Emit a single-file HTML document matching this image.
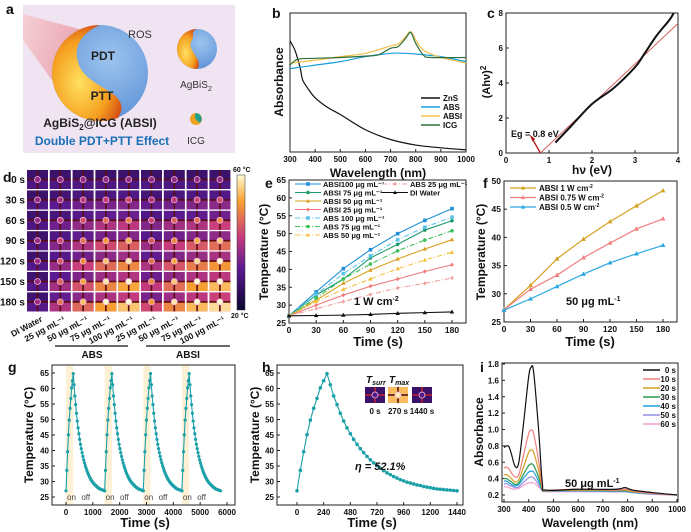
<!DOCTYPE html>
<html><head><meta charset="utf-8"><style>
body{margin:0;background:#fff}
svg{display:block;font-family:"Liberation Sans",Arial,sans-serif}
text{font-family:"Liberation Sans",Arial,sans-serif}
</style></head><body>
<svg id="fig" width="691" height="532" viewBox="0 0 691 532" xmlns="http://www.w3.org/2000/svg">
<defs>
<radialGradient id="blueG" cx="0.6" cy="0.35" r="0.7"><stop offset="0" stop-color="#9cc4ee"/><stop offset="1" stop-color="#5b8fd6"/></radialGradient>
<radialGradient id="fireG" cx="0.4" cy="0.6" r="0.7"><stop offset="0" stop-color="#ffe060"/><stop offset="0.6" stop-color="#f5a020"/><stop offset="1" stop-color="#d04010"/></radialGradient>
<linearGradient id="beamG" x1="0" y1="0" x2="1" y2="0.3"><stop offset="0" stop-color="#f6c8cc"/><stop offset="1" stop-color="#e07080"/></linearGradient>
<linearGradient id="cbar" x1="0" y1="1" x2="0" y2="0"><stop offset="0" stop-color="#0a0630"/><stop offset="0.3" stop-color="#5a1a90"/><stop offset="0.55" stop-color="#c83c7c"/><stop offset="0.8" stop-color="#f8a030"/><stop offset="1" stop-color="#fffbd0"/></linearGradient>
</defs>
<g>
<rect x="23" y="5" width="212" height="148" fill="#f1e4f2"/>
<polygon points="23,14 23,40 75,112 120,40" fill="url(#beamG)" opacity="0.75"/>
<circle cx="100" cy="73" r="48" fill="url(#blueG)"/>
<path d="M100,25 A48,48 0 0 0 100,121 A48,48 0 0 0 118,118 C135,90 85,90 78,62 C72,42 88,30 100,25 Z" fill="url(#fireG)"/>
<circle cx="197" cy="49" r="20" fill="url(#blueG)"/>
<path d="M197,29 A20,20 0 0 0 197,69 C205,60 185,50 192,40 C195,34 190,32 197,29Z" fill="url(#fireG)"/>
<circle cx="196" cy="119" r="6" fill="#f0a020"/>
<path d="M196,113 A6,6 0 0 1 200,123 C196,120 193,117 196,113Z" fill="#20a090"/>
<text x="128" y="38" font-size="11" fill="#333">ROS</text>
<text x="103" y="60" font-size="12" font-weight="bold" text-anchor="middle" fill="#222">PDT</text>
<text x="102" y="100" font-size="12" font-weight="bold" text-anchor="middle" fill="#222">PTT</text>
<text x="100" y="127" font-size="12" font-weight="bold" text-anchor="middle" fill="#222">AgBiS<tspan font-size="8" dy="3">2</tspan><tspan dy="-3">@ICG (ABSI)</tspan></text>
<text x="102" y="145" font-size="12" font-weight="bold" text-anchor="middle" fill="#1a6fb5">Double PDT+PTT Effect</text>
<text x="196" y="88" font-size="10" text-anchor="middle" fill="#333">AgBiS<tspan font-size="7" dy="3">2</tspan></text>
<text x="196" y="144" font-size="10" text-anchor="middle" fill="#333">ICG</text>
<text x="6" y="14" font-size="14" font-weight="bold">a</text>
</g>
</svg>
<script>
const bWl = [300,320,340,350,370,400,450,500,600,700,800,900,1000];
const bZnS = [.80,.73,.61,.52,.46,.39,.32,.27,.16,.09,.05,.03,.015];
const bAbsWl = [300,400,500,600,700,750,800,900,1000];
const bAbs = [.60,.625,.65,.686,.71,.71,.705,.686,.65];
const bAbsiWl = [300,400,500,600,700,730,760,780,800,830,900,1000];
const bAbsi = [.64,.66,.686,.71,.763,.777,.83,.866,.806,.734,.68,.64];
const bIcgWl = [300,330,400,500,600,650,700,730,760,780,800,830,860,1000];
const bIcg = [.625,.667,.674,.68,.69,.698,.746,.758,.818,.86,.782,.698,.68,.68];
const bSeries = ['ZnS','ABS','ABSI','ICG'];
const cHv = [1.15,1.5,2.0,2.5,3.0,3.2,3.5,3.8,3.9];
const cVal = [0.6,1.5,2.8,3.7,4.9,5.6,6.7,7.6,8.0];
const cFitHv = [0.8,4.0];
const cFitVal = [0,7.4];
const eTime = [0,30,60,90,120,150,180];
const eABSI100 = [27,33.7,40.2,45.5,50,53.7,57];
const eABSI75 = [27,32.8,37.3,43.2,47,51,53.6];
const eABSI50 = [27,31.4,36.1,39.8,42.9,45.7,48.3];
const eABSI25 = [27,30,32.8,35.3,37.3,39.4,41.3];
const eABS100 = [27,33,38.8,43.8,48.3,51.8,54.6];
const eABS75 = [27,32,37.3,41.5,45.2,48.2,50.8];
const eABS50 = [27,31,34.4,37.3,40.2,42.6,44.8];
const eABS25 = [27,29,31,33,34.8,36.1,37.6];
const eDI = [27,27.1,27.2,27.4,27.7,27.9,28.1];
const eXTicks = [0,30,60,90,120,150,180];
const eYTicks = [25,30,35,40,45,50,55,60,65];
const f1W = [27.2,31.5,36.2,39.7,42.8,45.6,48.3];
const f075W = [27.2,30.8,33.3,36.4,39,41.5,43.3];
const f05W = [27.1,29.1,31.3,33.5,35.5,37.1,38.6];
const fYTicks = [25,30,35,40,45,50];
const dRows = ['0 s','30 s','60 s','90 s','120 s','150 s','180 s'];
const dCols = ['DI Water','25 μg mL⁻¹','50 μg mL⁻¹','75 μg mL⁻¹','100 μg mL⁻¹','25 μg mL⁻¹','50 μg mL⁻¹','75 μg mL⁻¹','100 μg mL⁻¹'];
const hHeat = [27,33.6,39.6,45.1,49.8,53.6,56.8,60.2,62.5,64.8];
const hCool = [64.8,61.2,57.6,54.8,52.0,49.5,47.3,45.4,43.6,42.0,40.6,39.3,38.1,37.0,36.0,35.1,34.3,33.5,32.8,32.2,31.6,31.1,30.6,30.2,29.8,29.5,29.2,28.9,28.7,28.4,28.2,28.0,27.8,27.6,27.5,27.4,27.3,27.2,27.1,27.0];
const hStep = 30;
const gCycles = [0,1440,2880,4320];
const gXTicks = [0,1000,2000,3000,4000,5000,6000];
const hXTicks = [0,240,480,720,960,1200,1440];
const iWl = [300,310,320,330,345,360,380,400,410,420,440,455,470,600,750,790,820,900,1000];
const i0 = [.78,.80,.79,.70,.55,.60,1.10,1.65,1.76,1.70,1.00,.35,.26,.27,.27,.29,.26,.23,.20];
const i10 = [.53,.54,.52,.47,.42,.45,.70,.95,.99,.95,.62,.30,.26,.27,.26,.27,.25,.22,.20];
const i20 = [.44,.45,.43,.40,.36,.39,.55,.72,.75,.72,.50,.28,.26,.26,.26,.26,.24,.22,.20];
const i30 = [.40,.40,.38,.36,.33,.35,.46,.56,.58,.56,.42,.27,.25,.26,.25,.25,.24,.22,.20];
const i40 = [.37,.37,.35,.33,.31,.33,.41,.48,.49,.48,.37,.26,.25,.25,.25,.25,.23,.22,.20];
const i50 = [.33,.34,.32,.31,.29,.30,.36,.41,.42,.41,.33,.26,.25,.25,.24,.24,.23,.21,.20];
const i60 = [.30,.30,.29,.28,.27,.28,.32,.35,.35,.35,.30,.25,.24,.24,.24,.24,.23,.21,.20];
const iLabels = ['0 s','10 s','20 s','30 s','40 s','50 s','60 s'];
const iYTicks = [0.2,0.4,0.6,0.8,1.0,1.2,1.4,1.6,1.8];
const wlTicks = [300,400,500,600,700,800,900,1000];

const NS='http://www.w3.org/2000/svg';
const S=document.getElementById('fig');
function mk(tag,a,p){const e=document.createElementNS(NS,tag);for(const k in a)e.setAttribute(k,a[k]);(p||S).appendChild(e);return e;}
function T(x,y,s,size,extra,p){const t=mk('text',Object.assign({x:x,y:y,'font-size':size,'font-weight':'bold',fill:'#111'},extra||{}),p);t.textContent=s;return t;}
function lin(d0,d1,r0,r1){return v=>r0+(v-d0)/(d1-d0)*(r1-r0);}
function smooth(p){if(p.length<3)return 'M'+p.map(q=>q.join(',')).join('L');let d='M'+p[0][0]+','+p[0][1];for(let i=0;i<p.length-1;i++){const a=p[i-1]||p[i],b=p[i],c=p[i+1],e=p[i+2]||c;d+=' C'+(b[0]+(c[0]-a[0])/6)+','+(b[1]+(c[1]-a[1])/6)+' '+(c[0]-(e[0]-b[0])/6)+','+(c[1]-(e[1]-b[1])/6)+' '+c[0]+','+c[1];}return d;}
function panel(name){const g=mk('g',{});return g;}
function frame(g,L,R,Tp,B){const r=mk('rect',{x:L,y:Tp,width:R-L,height:B-Tp,fill:'none',stroke:'#222','stroke-width':1},g);}
function xt(g,vals,sx,B,fs,lab){vals.forEach(v=>{mk('line',{x1:sx(v),x2:sx(v),y1:B,y2:B-3,stroke:'#222'},g);const t=T(sx(v),B+10,lab?lab(v):v,fs,{'text-anchor':'middle'},g);});}
function yt(g,vals,sy,L,fs,lab){vals.forEach(v=>{mk('line',{x1:L,x2:L+3,y1:sy(v),y2:sy(v),stroke:'#222'},g);const t=T(L-3,sy(v)+3,lab?lab(v):v,fs,{'text-anchor':'end'},g);});}
function ytitle(g,x,y,s,fs){const t=T(x,y,'',fs,{'text-anchor':'middle',transform:'rotate(-90 '+x+' '+y+')'},g);t.innerHTML=s;return t;}
function xtitle(g,x,y,s,fs){const t=T(x,y,'',fs,{'text-anchor':'middle'},g);t.innerHTML=s;return t;}
function marker(g,shape,x,y,c,s){let m;if(shape==='sq')m=mk('rect',{x:x-s,y:y-s,width:2*s,height:2*s,fill:c},g);else if(shape==='ci')m=mk('circle',{cx:x,cy:y,r:s,fill:c},g);else if(shape==='tr')m=mk('polygon',{points:(x)+','+(y-s*1.2)+' '+(x-s*1.1)+','+(y+s*.8)+' '+(x+s*1.1)+','+(y+s*.8),fill:c},g);else m=mk('polygon',{points:x+','+(y-s*1.2)+' '+(x+s)+','+y+' '+x+','+(y+s*1.2)+' '+(x-s)+','+y,fill:c},g);return m;}
function letter(s,x,y){const t=T(x,y,s,14,{});}

(function(){const g=panel('panel-b-absorbance-spectra');const L=290,R=466,Tp=13,B=152;
const sx=lin(300,1000,L,R),sy=lin(0,1,B,Tp);frame(g,L,R,Tp,B);xt(g,wlTicks,sx,B,8);
const sets=[[bWl,bZnS,'#111'],[bAbsWl,bAbs,'#1aa0e0'],[bAbsiWl,bAbsi,'#f2c04a'],[bIcgWl,bIcg,'#2e6e3a']];
sets.forEach((s,k)=>{const p=mk('path',{d:smooth(s[0].map((w,i)=>[sx(w),sy(s[1][i])])),fill:'none',stroke:s[2],'stroke-width':1.2},g);
const ly=98+k*9;mk('line',{x1:421,x2:440,y1:ly,y2:ly,stroke:s[2],'stroke-width':1.5},g);const t=T(443,ly+3,bSeries[k],8,{},g);});
ytitle(g,283,82,'Absorbance',12);xtitle(g,378,177,'Wavelength (nm)',12);letter('b',272,18);})();

(function(){const g=panel('panel-c-tauc-plot');const L=506,R=678,Tp=13,B=153;
const sx=lin(0,4,L,R),sy=lin(0,8,B,Tp);frame(g,L,R,Tp,B);xt(g,[0,1,2,3,4],sx,B,8);yt(g,[0,2,4,6,8],sy,L,8);
const f=mk('line',{x1:sx(cFitHv[0]),y1:sy(cFitVal[0]),x2:sx(cFitHv[1]),y2:sy(cFitVal[1]),stroke:'#d06060','stroke-width':1},g);
const p=mk('path',{d:smooth(cHv.map((h,i)=>[sx(h),sy(cVal[i])])),fill:'none',stroke:'#111','stroke-width':2},g);
const a=mk('path',{d:'M'+sx(cFitHv[0])+','+sy(0)+' L'+sx(0.58)+','+sy(0.95),stroke:'#b01818','stroke-width':1.3,fill:'none'},g);
mk('polygon',{points:(sx(0.55))+','+(sy(1.05))+' '+(sx(0.54)+6)+','+(sy(0.8))+' '+(sx(0.62))+','+(sy(0.65)),fill:'#b01818'},g);
const t=T(511,137,'Eg = 0.8 eV',9,{},g);
ytitle(g,490,82,'(Ahν)<tspan font-size="8" dy="-4">2</tspan>',11);xtitle(g,592,174,'hν (eV)',12);letter('c',487,18);})();

const dData=[eDI,eABS25,eABS50,eABS75,eABS100,eABSI25,eABSI50,eABSI75,eABSI100];
function cmap(v){v=Math.max(0,Math.min(1,v));const st=[[0,[10,6,48]],[0.3,[90,26,144]],[0.55,[200,60,124]],[0.8,[248,160,48]],[1,[255,251,208]]];for(let i=0;i<st.length-1;i++){if(v<=st[i+1][0]){const t=(v-st[i][0])/(st[i+1][0]-st[i][0]);const a=st[i][1],b=st[i+1][1];return 'rgb('+a.map((c,k)=>Math.round(c+(b[k]-c)*t)).join(',')+')';}}return 'rgb(255,251,208)';}
(function(){const g=panel('panel-d-thermal-images');const lv=T=>(T-20)/40;
dRows.forEach((r,ri)=>{const y=170+ri*20.4;const t=T(25,y+13,r,10,{'text-anchor':'end'},g);
dCols.forEach((c,ci)=>{const x=27+ci*22.8,w=21,h=19;const v=lv(dData[ci][ri]);const cg=mk('g',{},g);
mk('rect',{x:x,y:y,width:w,height:h,fill:cmap(0.1+v*0.5)},cg);mk('rect',{x:x,y:y+h*0.5,width:w,height:h*0.5,fill:cmap(0.1+v*0.9)},cg);
mk('line',{x1:x,x2:x+w,y1:y+h/2,y2:y+h/2,stroke:'#5a0c10','stroke-width':1.6},cg);mk('line',{x1:x+w/2,x2:x+w/2,y1:y,y2:y+h,stroke:'#5a0c10','stroke-width':1.6},cg);
mk('circle',{cx:x+w/2,cy:y+h/2,r:3,fill:cmap(0.25+v),stroke:'#f0b8e0','stroke-width':0.8},cg);});});
dCols.forEach((c,ci)=>{const x=27+ci*22.8+16,y=321;const t=T(x,y,c,8.5,{'text-anchor':'end',transform:'rotate(-28 '+x+' '+y+')'},g);});
mk('line',{x1:55,x2:128,y1:346,y2:346,stroke:'#111','stroke-width':1.2},g);mk('line',{x1:146,x2:230,y1:346,y2:346,stroke:'#111','stroke-width':1.2},g);
let t=T(92,358,'ABS',10,{'text-anchor':'middle'},g);
t=T(188,358,'ABSI',10,{'text-anchor':'middle'},g);
const cb=mk('rect',{x:237,y:175,width:8,height:135,fill:'url(#cbar)',stroke:'#333','stroke-width':0.5},g);
t=T(233,172,'60 °C',7,{},g);
t=T(231,318,'20 °C',7,{},g);
letter('d',3,182);})();

(function(){const g=panel('panel-e-heating-curves');const L=289,R=466,Tp=180,B=323;
const sx=lin(0,180,L,452),sy=lin(25,65,B,Tp);frame(g,L,R,Tp,B);xt(g,eXTicks,sx,B,8.5);yt(g,eYTicks,sy,L,8.5);
const ser=[['ABSI100 μg mL⁻¹',eABSI100,'#1f8fd6','sq',''],['ABSI  75 μg mL⁻¹',eABSI75,'#1e9a6e','ci',''],['ABSI  50 μg mL⁻¹',eABSI50,'#d9a020','tr',''],['ABSI  25 μg mL⁻¹',eABSI25,'#f07878','di',''],['ABS 100 μg mL⁻¹',eABS100,'#5cc4ea','sq','5,2,1,2'],['ABS   75 μg mL⁻¹',eABS75,'#3cbf5a','ci','5,2,1,2'],['ABS   50 μg mL⁻¹',eABS50,'#f5c040','tr','5,2,1,2'],['ABS   25 μg mL⁻¹',eABS25,'#f0a0a0','di','5,2,1,2'],['DI Water',eDI,'#111','tr','']];
ser.forEach((s,k)=>{const p=mk('polyline',{points:eTime.map((t,i)=>sx(t)+','+sy(s[1][i])).join(' '),fill:'none',stroke:s[2],'stroke-width':1.1,'stroke-dasharray':s[4]},g);
eTime.forEach((t,i)=>marker(g,s[3],sx(t),sy(s[1][i]),s[2],s[3]==='tr'?2:1.8));
let lx,ly;if(k<7){lx=295;ly=184+k*8.5;}else{lx=382;ly=184+(k-7)*8.5;}
mk('line',{x1:lx,x2:lx+26,y1:ly,y2:ly,stroke:s[2],'stroke-width':1.1,'stroke-dasharray':s[4]},g);marker(g,s[3],lx+13,ly,s[2],1.8);
const tx=T(lx+28,ly+3,s[0],7.5,{'xml:space':'preserve'},g);});
let t=T(354,305,'',11,{},g);t.innerHTML='1 W cm<tspan font-size="7" dy="-4">-2</tspan>';
ytitle(g,268,252,'Temperature (°C)',12);xtitle(g,378,346,'Time (s)',13);letter('e',265,188);})();

(function(){const g=panel('panel-f-power-curves');const L=504,R=677,Tp=181,B=322;
const sx=lin(0,180,L,663),sy=lin(25,50,B,Tp);frame(g,L,R,Tp,B);xt(g,eXTicks,sx,B,8.5);yt(g,fYTicks,sy,L,8.5);
const ser=[['ABSI      1 W cm',f1W,'#d4a020'],['ABSI 0.75 W cm',f075W,'#f08080'],['ABSI   0.5 W cm',f05W,'#2aa8e0']];
ser.forEach((s,k)=>{const p=mk('polyline',{points:eTime.map((t,i)=>sx(t)+','+sy(s[1][i])).join(' '),fill:'none',stroke:s[2],'stroke-width':1.2},g);
eTime.forEach((t,i)=>marker(g,'tr',sx(t),sy(s[1][i]),s[2],2.2));const ly=188+k*9.5;
mk('line',{x1:510,x2:536,y1:ly,y2:ly,stroke:s[2],'stroke-width':1.2},g);marker(g,'tr',523,ly,s[2],2);
const tx=T(539,ly+3,'',8,{'xml:space':'preserve'},g);tx.innerHTML=s[0]+'<tspan font-size="5" dy="-3">-2</tspan>';});
let t=T(566,305,'',11,{},g);t.innerHTML='50 μg mL<tspan font-size="7" dy="-4">-1</tspan>';
ytitle(g,485,252,'Temperature (°C)',12);xtitle(g,590,346,'Time (s)',13);letter('f',483,188);})();

const tc='#1aa0a8';
(function(){const g=panel('panel-g-cycling');const L=52,R=235,Tp=365,B=505;
const sx=lin(0,6000,66,227),sy=lin(25,65,497,373);
gCycles.forEach(c=>{const b=mk('rect',{x:sx(c),y:Tp,width:sx(c+270)-sx(c),height:B-Tp,fill:'#fdf0d4'},g);});
frame(g,L,R,Tp,B);xt(g,gXTicks,sx,B,8);yt(g,eYTicks,sy,L,8);
let pts=[];gCycles.forEach(c=>{hHeat.forEach((v,i)=>pts.push([sx(c+i*hStep),sy(v)]));hCool.slice(1).forEach((v,i)=>pts.push([sx(c+270+(i+1)*hStep),sy(v)]));});
const p=mk('polyline',{points:pts.map(q=>q.join(',')).join(' '),fill:'none',stroke:tc,'stroke-width':1.1},g);
pts.forEach(q=>marker(g,'ci',q[0],q[1],tc,1.6));
gCycles.forEach(c=>{let t=T(sx(c)+1,500,'on',8,{'font-weight':'normal',fill:'#444'},g);t=T(sx(c+720)-4,500,'off',8,{'font-weight':'normal',fill:'#444'},g);});
ytitle(g,33,435,'Temperature (°C)',12);xtitle(g,145,527,'Time (s)',13);letter('g',8,372);})();

(function(){const g=panel('panel-h-cooling');const L=277,R=463,Tp=365,B=505;
const sx=lin(0,1440,297,457),sy=lin(25,65,497,373);frame(g,L,R,Tp,B);xt(g,hXTicks,sx,B,8);yt(g,eYTicks,sy,L,8);
let pts=[];hHeat.forEach((v,i)=>pts.push([sx(i*hStep),sy(v)]));hCool.slice(1).forEach((v,i)=>pts.push([sx(270+(i+1)*hStep),sy(v)]));
const p=mk('polyline',{points:pts.map(q=>q.join(',')).join(' '),fill:'none',stroke:tc,'stroke-width':1.1},g);
pts.forEach(q=>marker(g,'ci',q[0],q[1],tc,1.8));
[[365,0.1,'0 s'],[388,0.95,'270 s'],[412,0.1,'1440 s']].forEach(d=>{const ig=mk('g',{},g);
mk('rect',{x:d[0],y:387,width:20,height:16,fill:cmap(d[1]*0.8+0.1)},ig);mk('line',{x1:d[0],x2:d[0]+20,y1:395,y2:395,stroke:d[1]>0.5?'#4a0a08':'#c02030','stroke-width':1.5},ig);mk('line',{x1:d[0]+10,x2:d[0]+10,y1:387,y2:403,stroke:d[1]>0.5?'#4a0a08':'#c02030','stroke-width':1.5},ig);mk('circle',{cx:d[0]+10,cy:395,r:3,fill:cmap(d[1]*0.8+0.2),stroke:'#f0c0e0','stroke-width':0.8},ig);
const t=T(d[0]+10,414,d[2],8,{'text-anchor':'middle'},g);});
let t=T(366,383,'',10,{'font-style':'italic'},g);t.innerHTML='T<tspan font-size="7" dy="2">surr</tspan>';
t=T(389,383,'',10,{'font-style':'italic'},g);t.innerHTML='T<tspan font-size="7" dy="2">max</tspan>';
t=T(355,470,'η = 52.1%',11,{'font-style':'italic'},g);
ytitle(g,259,435,'Temperature (°C)',12);xtitle(g,372,527,'Time (s)',13);letter('h',262,372);})();

(function(){const g=panel('panel-i-degradation');const L=502,R=678,Tp=363,B=502;
const sx=lin(300,1000,504,677),sy=lin(0.2,1.8,495,364);frame(g,L,R,Tp,B);xt(g,wlTicks,sx,B,8);yt(g,iYTicks,sy,L,8,v=>v.toFixed(1));
const ser=[i0,i10,i20,i30,i40,i50,i60],cols=['#111','#f08080','#d4a020','#2a9a50','#1aa0e0','#9090e0','#f0a0d0'];
ser.slice().reverse().forEach((s,kk)=>{const k=6-kk;const p=mk('path',{d:smooth(iWl.map((w,i)=>[sx(w),sy(s[i])])),fill:'none',stroke:cols[k],'stroke-width':1.2},g);});
iLabels.forEach((l,k)=>{const ly=370+k*9;mk('line',{x1:643,x2:660,y1:ly,y2:ly,stroke:cols[k],'stroke-width':1.5},g);const t=T(676,ly+3,l,8,{'text-anchor':'end'},g);});
let t=T(565,487,'',11,{},g);t.innerHTML='50 μg mL<tspan font-size="7" dy="-4">-1</tspan>';
ytitle(g,483,432,'Absorbance',12);xtitle(g,590,527,'Wavelength (nm)',12);letter('i',480,372);})();
</script>
</body></html>
